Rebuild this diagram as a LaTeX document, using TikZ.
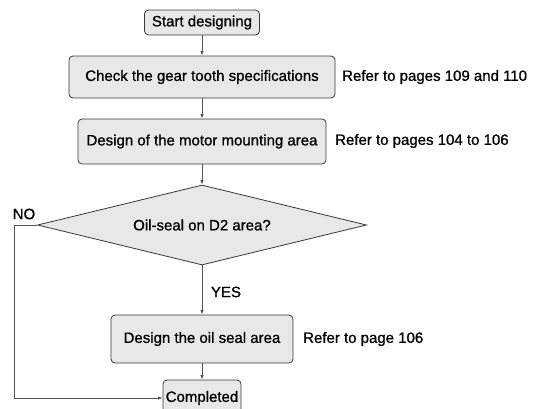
\documentclass[tikz,border=0pt]{standalone}
\usepackage{fontspec}
\setmainfont{Liberation Sans}[BoldFont={Liberation Sans}, BoldFeatures={FakeBold=0.9}]
\usetikzlibrary{shapes.geometric, arrows.meta, positioning}
\definecolor{cfill}{gray}{0.91}
\definecolor{cline}{gray}{0.22}
\definecolor{carrow}{gray}{0.33}

\begin{document}
\begin{tikzpicture}[x=1pt, y=-1pt,
  box/.style={draw=cline, fill=cfill, rounded corners=4pt, line width=0.8pt, inner sep=0pt, font=\fontsize{15}{18}\selectfont\bfseries},
  ask/.style={diamond, aspect=4.1, draw=cline, fill=cfill, line width=0.8pt, inner sep=0pt, minimum width=329pt, minimum height=80pt, font=\fontsize{15}{18}\selectfont\bfseries},
  note/.style={anchor=west, inner sep=0pt, font=\fontsize{15}{18}\selectfont\bfseries},
  flow/.style={-{Latex[length=4.5pt, width=3.5pt]}, carrow, line width=0.9pt}
]
\useasboundingbox (0,0) rectangle (538,408);
\clip (0,0) rectangle (538,408);
\node[box, minimum width=115pt, minimum height=25pt] (start) at (202,22.5) {Start designing};
\node[box, minimum width=266pt, minimum height=42pt] (check) at (202,77) {Check the gear tooth specifications};
\node[box, minimum width=248pt, minimum height=45pt] (motor) at (202,141.5) {Design of the motor mounting area};
\node[ask] (oil) at (202,225) {Oil-seal on D2 area?};
\node[box, minimum width=182pt, minimum height=48pt] (seal) at (202,339) {Design the oil seal area};
\node[box, minimum width=78pt, minimum height=36pt] (done) at (202,398) {Completed};
\node[note] (r1) at (342,77) {Refer to pages 109 and 110};
\node[note] (r2) at (335,141) {Refer to pages 104 to 106};
\node[note] (r3) at (303,339) {Refer to page 106};
\node[note, anchor=center] (no) at (24,214) {NO};
\node[note, anchor=center] (yes) at (226,292) {YES};
\coordinate (bend) at (14,225);
\draw[flow] (start) -- (check);
\draw[flow] (check) -- (motor);
\draw[flow] (motor) -- (oil);
\draw[flow] (oil) -- (seal);
\draw[flow] (seal) -- (done);
\draw[flow] (oil.west) -- (bend) |- (done.west);
\end{tikzpicture}
\end{document}
